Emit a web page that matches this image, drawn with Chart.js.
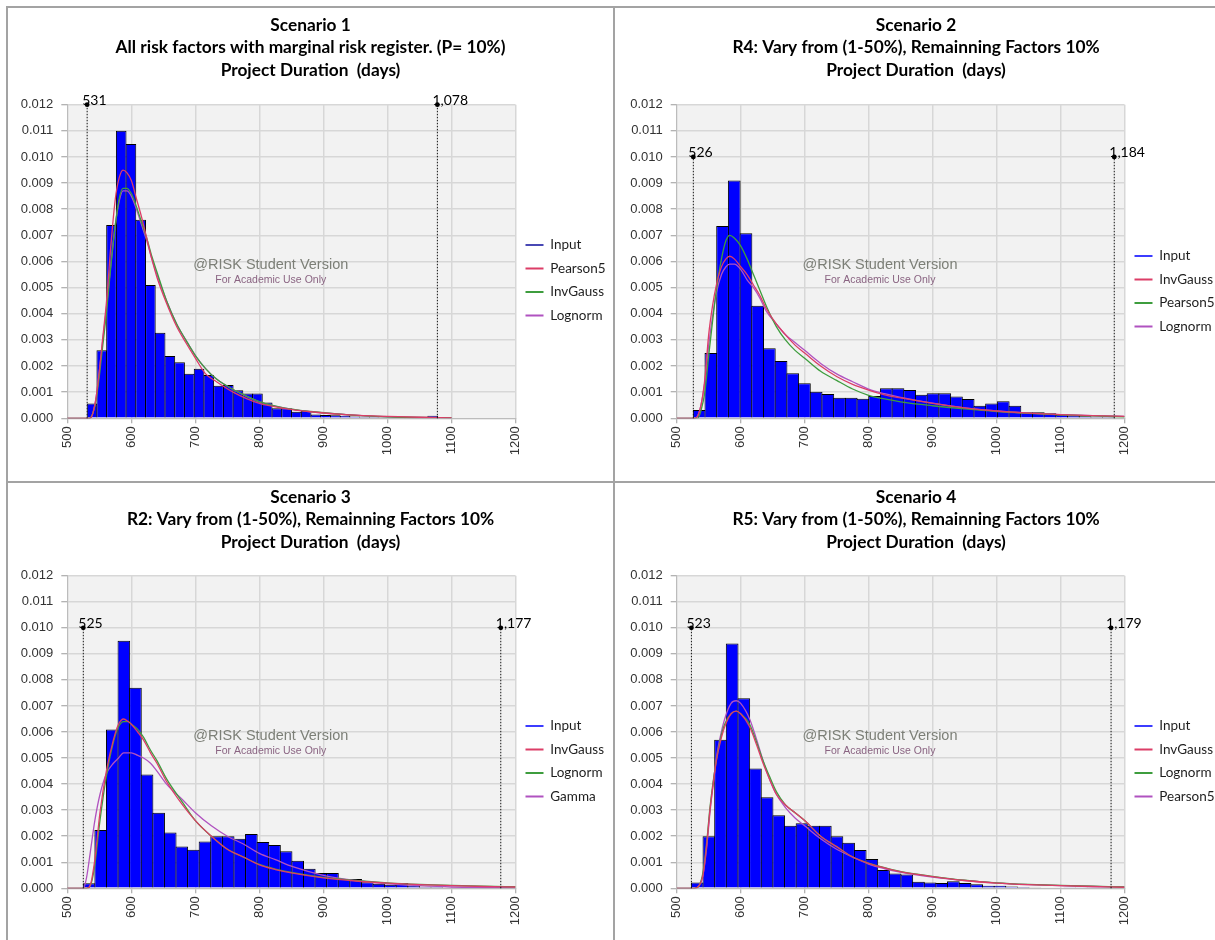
<!DOCTYPE html>
<html lang="en">
<head>
<meta charset="utf-8">
<title>Project Duration – fitted distributions</title>
<script src="https://cdn.jsdelivr.net/npm/chart.js@4.4.1/dist/chart.umd.min.js"></script>
<style>
  html, body { margin: 0; padding: 0; background: #fff; }
  body { position: relative; width: 1215px; height: 940px; overflow: hidden; }
  .frame { position: absolute; box-sizing: border-box; border: 2px solid #a3a3a3; }
  canvas { position: absolute; }
</style>
</head>
<body>
<div class="frame" style="left:6px;top:6px;width:609px;height:477px"></div>
<div class="frame" style="left:613px;top:6px;width:606px;height:477px"></div>
<div class="frame" style="left:6px;top:481px;width:609px;height:465px"></div>
<div class="frame" style="left:613px;top:481px;width:606px;height:465px"></div>
<canvas id="s1" width="605" height="472" style="left:8px;top:8px"></canvas>
<canvas id="s2" width="598" height="472" style="left:617px;top:8px"></canvas>
<canvas id="s3" width="605" height="456" style="left:8px;top:484px"></canvas>
<canvas id="s4" width="598" height="456" style="left:617px;top:484px"></canvas>
<script>
// ---- shared axes -------------------------------------------------------
const durationTicks = [500, 600, 700, 800, 900, 1000, 1100, 1200];
const densityTicks = [0, 0.001, 0.002, 0.003, 0.004, 0.005, 0.006, 0.007, 0.008, 0.009, 0.010, 0.011, 0.012];
const watermarkLines = ['@RISK Student Version', 'For Academic Use Only'];

// ---- Scenario 1 --------------------------------------------------------
const s1Title = ['Scenario 1', 'All risk factors with marginal risk register. (P= 10%)', 'Project Duration  (days)'];
const s1Series = ['Input', 'Pearson5', 'InvGauss', 'Lognorm'];
const s1BinStart = 531;
const s1BinWidth = 15.2;
const s1Density = [0.00057, 0.0026, 0.0074, 0.0110, 0.0105, 0.0076, 0.0051, 0.00327, 0.00238, 0.00214,
  0.0017, 0.0019, 0.00166, 0.00125, 0.00127, 0.00107, 0.00095, 0.00095, 0.0006, 0.00038,
  0.00038, 0.00025, 0.00028, 0.00015, 0.00013, 0.00012, 0.0001, 0.00007, 0.00006, 0.00005,
  0.00004, 0.00003, 0.00003, 0.00002, 0.00003, 0.0001];
const s1FitX = [500, 535, 540, 545, 550, 555, 561, 568, 575, 581, 587, 593, 600, 608, 616, 624, 632, 640,
  655, 671, 685, 700, 716, 733, 759, 780, 800, 838, 880, 940, 1000, 1050, 1100];
const s1Pearson5 = [0, 0, 0.0002, 0.0008, 0.0018, 0.003, 0.0044, 0.0066, 0.0084, 0.0092, 0.0095, 0.0094,
  0.0091, 0.0084, 0.0077, 0.0069, 0.0061, 0.0054, 0.0044, 0.0035, 0.0029, 0.0023, 0.0017, 0.0014,
  0.001, 0.00075, 0.00057, 0.00038, 0.00025, 0.00013, 0.00007, 0.00004, 0.00002];
const s1InvGauss = [0, 0, 0.0002, 0.0007, 0.0016, 0.0027, 0.004, 0.0058, 0.0074, 0.0084, 0.0088, 0.0088,
  0.0086, 0.0081, 0.0075, 0.0069, 0.0062, 0.0056, 0.0045, 0.0036, 0.003, 0.0024, 0.0019, 0.0015,
  0.0011, 0.00085, 0.00064, 0.0004, 0.00026, 0.00013, 0.00006, 0.00003, 0.00002];
const s1Lognorm = [0, 0, 0.0002, 0.0008, 0.0018, 0.0029, 0.0042, 0.0059, 0.0074, 0.0083, 0.0087, 0.0087,
  0.0085, 0.008, 0.0074, 0.0068, 0.0061, 0.0055, 0.0045, 0.0036, 0.003, 0.0024, 0.0019, 0.0015,
  0.0011, 0.00084, 0.00063, 0.0004, 0.00025, 0.00013, 0.00006, 0.00003, 0.00002];
const s1Markers = [531, 1078];
const s1MarkerTop = 0.012;

// ---- Scenario 2 --------------------------------------------------------
const s2Title = ['Scenario 2', 'R4: Vary from (1-50%), Remainning Factors 10%', 'Project Duration  (days)'];
const s2Series = ['Input', 'InvGauss', 'Pearson5', 'Lognorm'];
const s2BinStart = 526;
const s2BinWidth = 18.28;
const s2Density = [0.00032, 0.0025, 0.00736, 0.0091, 0.00708, 0.00431, 0.00268, 0.00219, 0.00172, 0.00134,
  0.00102, 0.00093, 0.00079, 0.00079, 0.00075, 0.00085, 0.00115, 0.00115, 0.00108, 0.0009,
  0.00096, 0.00096, 0.00083, 0.00074, 0.00048, 0.00057, 0.00065, 0.00048, 0.00023, 0.00023,
  0.00019, 0.00014, 0.0001, 0.00008, 0.00006, 0.00006];
const s2FitX = [500, 528, 533, 538, 544, 550, 556, 562, 570, 577, 583, 590, 600, 610, 620, 630, 640, 656,
  670, 685, 700, 725, 750, 775, 800, 825, 850, 900, 950, 1000, 1050, 1100, 1150, 1200];
const s2InvGauss = [0, 0, 0.0001, 0.0005, 0.0015, 0.0032, 0.0043, 0.0051, 0.0058, 0.0061, 0.0062, 0.0061,
  0.0058, 0.0055, 0.0051, 0.0047, 0.0042, 0.0036, 0.0032, 0.0028, 0.0025, 0.002, 0.0016, 0.0013,
  0.00108, 0.0009, 0.00078, 0.00057, 0.0004, 0.00028, 0.0002, 0.00014, 0.0001, 0.00007];
const s2Pearson5 = [0, 0, 0, 0.0003, 0.001, 0.0024, 0.0037, 0.0049, 0.0061, 0.0068, 0.007, 0.0069,
  0.0066, 0.0061, 0.0055, 0.0049, 0.0043, 0.0035, 0.003, 0.0026, 0.0023, 0.0018, 0.00145, 0.00112,
  0.00088, 0.00074, 0.00063, 0.00048, 0.00036, 0.00026, 0.00019, 0.00013, 0.00009, 0.00006];
const s2Lognorm = [0, 0, 0.0001, 0.0005, 0.0014, 0.0028, 0.0039, 0.0048, 0.0055, 0.0058, 0.0059, 0.0059,
  0.0057, 0.0053, 0.005, 0.0046, 0.0041, 0.0036, 0.0032, 0.0029, 0.0026, 0.0021, 0.0017, 0.0014,
  0.00112, 0.00094, 0.0008, 0.00058, 0.0004, 0.00028, 0.0002, 0.00014, 0.0001, 0.00007];
const s2Markers = [526, 1184];
const s2MarkerTop = 0.010;

// ---- Scenario 3 --------------------------------------------------------
const s3Title = ['Scenario 3', 'R2: Vary from (1-50%), Remainning Factors 10%', 'Project Duration  (days)'];
const s3Series = ['Input', 'InvGauss', 'Lognorm', 'Gamma'];
const s3BinStart = 525;
const s3BinWidth = 18.1;
const s3Density = [0.00019, 0.00224, 0.0061, 0.0095, 0.0077, 0.00437, 0.0029, 0.00214, 0.0016, 0.00148,
  0.0018, 0.002, 0.002, 0.0019, 0.00208, 0.00178, 0.00166, 0.00142, 0.00106, 0.00075,
  0.00059, 0.00059, 0.00036, 0.00036, 0.00023, 0.00017, 0.00014, 0.0002, 0.0001, 0.00006,
  0.00005, 0.00004, 0.00004, 0.00003, 0.00002, 0.00002];
const s3FitX = [500, 525, 530, 536, 543, 551, 561, 572, 580, 588, 595, 600, 610, 619, 630, 640, 655, 680,
  700, 725, 750, 775, 800, 825, 852, 900, 950, 1000, 1050, 1100, 1150, 1200];
const s3InvGauss = [0, 0, 0, 0.00013, 0.0011, 0.0029, 0.0045, 0.0057, 0.0063, 0.0065, 0.0064, 0.0063,
  0.006, 0.0057, 0.0052, 0.0048, 0.0041, 0.0032, 0.0026, 0.002, 0.0015, 0.0012, 0.0009, 0.00072,
  0.00058, 0.0004, 0.00028, 0.0002, 0.00014, 0.0001, 0.00007, 0.00005];
const s3Lognorm = [0, 0, 0, 0.0001, 0.0009, 0.0026, 0.0043, 0.0056, 0.0062, 0.0064, 0.0064, 0.0063,
  0.0061, 0.0058, 0.0053, 0.0049, 0.0042, 0.0033, 0.0026, 0.002, 0.0015, 0.0012, 0.00092, 0.00074,
  0.0006, 0.00042, 0.0003, 0.00021, 0.00015, 0.00011, 0.00008, 0.00006];
const s3Gamma = [0, 0, 0.0004, 0.0014, 0.0026, 0.0036, 0.0044, 0.0048, 0.005, 0.0052, 0.0052, 0.0052,
  0.0051, 0.005, 0.0048, 0.0045, 0.004, 0.0034, 0.0029, 0.0024, 0.002, 0.0017, 0.00134, 0.0011,
  0.00083, 0.0005, 0.0003, 0.00017, 0.0001, 0.00005, 0.00003, 0.00002];
const s3Markers = [525, 1177];
const s3MarkerTop = 0.010;

// ---- Scenario 4 --------------------------------------------------------
const s4Title = ['Scenario 4', 'R5: Vary from (1-50%), Remainning Factors 10%', 'Project Duration  (days)'];
const s4Series = ['Input', 'InvGauss', 'Lognorm', 'Pearson5'];
const s4BinStart = 523;
const s4BinWidth = 18.2;
const s4Density = [0.00022, 0.002, 0.0057, 0.0094, 0.0073, 0.0046, 0.0035, 0.0028, 0.0024, 0.0025,
  0.0024, 0.0024, 0.002, 0.00175, 0.00147, 0.00112, 0.0007, 0.00057, 0.00053, 0.00025,
  0.00022, 0.0002, 0.00027, 0.0002, 0.00016, 0.0001, 0.0001, 0.00007, 0.00005, 0.00004,
  0.00003, 0.00003, 0.00002, 0.00002, 0.00002, 0.00002];
const s4FitX = [500, 528, 535, 541, 547, 552, 557, 562, 568, 575, 585, 593, 600, 614, 625, 635, 645, 656,
  670, 685, 700, 725, 750, 775, 800, 825, 849, 900, 950, 1000, 1050, 1100, 1150, 1200];
const s4InvGauss = [0, 0, 0.0001, 0.0005, 0.0017, 0.003, 0.004, 0.0049, 0.0056, 0.0062, 0.0067, 0.0068,
  0.0067, 0.0062, 0.0055, 0.0048, 0.0042, 0.0036, 0.0032, 0.0029, 0.0026, 0.002, 0.0016, 0.0012,
  0.00096, 0.00078, 0.00064, 0.00045, 0.0003, 0.0002, 0.00014, 0.0001, 0.00007, 0.00004];
const s4Lognorm = [0, 0, 0.0001, 0.0006, 0.0018, 0.0031, 0.0041, 0.0049, 0.0057, 0.0063, 0.0067, 0.0068,
  0.0067, 0.0063, 0.0056, 0.0049, 0.0043, 0.0037, 0.0032, 0.0029, 0.0026, 0.002, 0.0016, 0.0012,
  0.00097, 0.00079, 0.00065, 0.00046, 0.00031, 0.00021, 0.00015, 0.00011, 0.00008, 0.00005];
const s4Pearson5 = [0, 0, 0.0001, 0.0005, 0.0016, 0.0029, 0.004, 0.005, 0.0058, 0.0065, 0.0071, 0.0072,
  0.0071, 0.0065, 0.0057, 0.0049, 0.0042, 0.0036, 0.0031, 0.0027, 0.0024, 0.0019, 0.0015, 0.0012,
  0.00093, 0.00075, 0.00062, 0.00043, 0.0003, 0.0002, 0.00014, 0.0001, 0.00007, 0.00005];
const s4Markers = [523, 1179];
const s4MarkerTop = 0.010;

// ---- styling -----------------------------------------------------------
const FIT_COLORS = ['#dc3d67', '#3e9d3e', '#b052c0'];
const GRID = '#d7d7d7';
const TICK_FONT = '"Liberation Sans", Arial, sans-serif';
const TEXT_FONT = 'Lato, "Open Sans", sans-serif';
const TITLE_LINE = 22.5;
const TITLE_SIZE = 17.3;

// plot-area fill
const plotBg = {
  id: 'plotBg',
  beforeDraw(chart) {
    const { ctx, chartArea: a } = chart;
    ctx.save();
    ctx.fillStyle = '#f2f2f2';
    ctx.fillRect(a.left, a.top, a.width, a.height);
    ctx.restore();
  }
};

// let the legend text run up to the canvas edge instead of being cut at the box
const legendRoom = {
  id: 'legendRoom',
  afterLayout(chart) {
    if (chart.legend) chart.legend.right = chart.width;
  }
};

// "@RISK Student Version" stamp in the plot area
const stamp = {
  id: 'stamp',
  beforeDatasetsDraw(chart) {
    const { ctx, chartArea: a } = chart;
    const cx = a.left + a.width * 0.454;
    const cy = a.top + a.height * 0.512;
    ctx.save();
    ctx.textAlign = 'center';
    ctx.textBaseline = 'middle';
    ctx.font = '14.5px ' + TICK_FONT;
    ctx.fillStyle = '#7c7f77';
    ctx.fillText(watermarkLines[0], cx, cy);
    ctx.font = '10.5px ' + TICK_FONT;
    ctx.fillStyle = '#8a6482';
    ctx.fillText(watermarkLines[1], cx, cy + 15);
    ctx.restore();
  }
};

// value label next to the head of each min / max marker line
const markerLabels = {
  id: 'markerLabels',
  afterDatasetsDraw(chart) {
    const { ctx } = chart;
    chart.data.datasets.forEach((ds, i) => {
      if (!ds.isMarker) return;
      const head = chart.getDatasetMeta(i).data[1];
      ctx.save();
      ctx.font = '14px ' + TEXT_FONT;
      ctx.fillStyle = '#000';
      ctx.textAlign = 'left';
      ctx.textBaseline = 'middle';
      ctx.fillText(ds.markerText, head.x - 5, head.y - 4);
      ctx.restore();
    });
  }
};

function points(xs, ys) {
  return xs.map((x, i) => ({ x, y: ys[i] }));
}

function drawPanel(id, p) {
  const canvas = document.getElementById(id);
  const datasets = [{
    type: 'bar',
    label: p.series[0],
    data: p.density.map((v, i) => ({ x: p.binStart + (i + 0.5) * p.binWidth, y: v })),
    backgroundColor: '#0000ff',
    borderColor: '#000',
    borderWidth: 1,
    barPercentage: 1.09,
    categoryPercentage: 1,
    order: 3,
    legendColor: p.inputColor
  }];
  p.fits.forEach((ys, k) => datasets.push({
    type: 'line',
    label: p.series[k + 1],
    data: points(p.fitX, ys),
    borderColor: FIT_COLORS[k],
    backgroundColor: FIT_COLORS[k],
    borderWidth: 1.3,
    pointRadius: 0,
    cubicInterpolationMode: 'monotone',
    fill: false,
    order: 2,
    legendColor: FIT_COLORS[k]
  }));
  p.markers.forEach(m => datasets.push({
    type: 'line',
    label: String(m),
    data: [{ x: m, y: 0 }, { x: m, y: p.markerTop }],
    borderColor: '#111',
    borderWidth: 1,
    borderDash: [1.5, 1.5],
    pointRadius: [0, 2.4],
    pointBackgroundColor: '#000',
    pointBorderWidth: 0,
    clip: false,
    order: 1,
    isMarker: true,
    markerText: m.toLocaleString('en-US')
  }));

  const b = p.box;
  // the legend takes all the room right of the plot, so the title stays centred on the panel
  const legendWidth = canvas.width - b.right;
  new Chart(canvas, {
    type: 'bar',
    data: { datasets },
    options: {
      responsive: false,
      devicePixelRatio: 1,
      animation: false,
      events: [],
      layout: { padding: 0 },
      scales: {
        x: {
          type: 'linear', min: 500, max: 1200, offset: false,
          afterBuildTicks: s => { s.ticks = durationTicks.map(v => ({ value: v })); },
          afterFit: s => { s.height = canvas.height - b.bottom; },
          grid: { offset: false, color: GRID, lineWidth: 1.5, tickLength: 5, tickColor: '#9a9a9a', tickWidth: 1 },
          border: { color: '#bcbcbc', width: 1 },
          ticks: {
            autoSkip: false, minRotation: 90, maxRotation: 90, padding: 3,
            color: '#333', font: { family: TICK_FONT, size: 13 },
            callback: v => String(v)
          }
        },
        y: {
          type: 'linear', min: 0, max: 0.012,
          afterBuildTicks: s => { s.ticks = densityTicks.map(v => ({ value: v })); },
          afterFit: s => { s.width = b.left; },
          grid: { color: GRID, lineWidth: 1.5, tickLength: 6, tickColor: '#9a9a9a', tickWidth: 1 },
          border: { color: '#bcbcbc', width: 1 },
          ticks: {
            padding: 8, color: '#333', font: { family: TICK_FONT, size: 13 },
            callback: v => Number(v).toFixed(3)
          }
        }
      },
      plugins: {
        tooltip: { enabled: false },
        title: {
          display: true,
          text: p.title,
          color: '#000',
          font: { family: TEXT_FONT, size: TITLE_SIZE, weight: 'bold', lineHeight: TITLE_LINE / TITLE_SIZE },
          padding: { top: b.titleTop, bottom: b.top - b.titleTop - 3 * TITLE_LINE }
        },
        legend: {
          position: 'right',
          align: 'start',
          fullSize: false,
          maxWidth: legendWidth,
          title: { display: true, text: ' ', font: { size: 1, lineHeight: 1 }, padding: { top: b.legendGap, bottom: 0 } },
          labels: {
            usePointStyle: true,
            pointStyle: 'line',
            pointStyleWidth: 18,
            padding: 10,
            color: '#1e1e1e',
            font: { family: TEXT_FONT, size: 13.5 },
            filter: item => item.datasetIndex < 4,
            sort: (a, c) => a.datasetIndex - c.datasetIndex,
            generateLabels(chart) {
              const items = Chart.defaults.plugins.legend.labels.generateLabels(chart);
              items.forEach(it => {
                const ds = chart.data.datasets[it.datasetIndex];
                it.strokeStyle = ds.legendColor || '#000';
                it.lineWidth = 2;
                it.lineDash = [];
              });
              return items;
            }
          }
        }
      }
    },
    plugins: [plotBg, legendRoom, stamp, markerLabels]
  });
}

drawPanel('s1', {
  title: s1Title, series: s1Series, binStart: s1BinStart, binWidth: s1BinWidth, density: s1Density,
  fitX: s1FitX, fits: [s1Pearson5, s1InvGauss, s1Lognorm],
  markers: s1Markers, markerTop: s1MarkerTop, inputColor: '#4848b4',
  box: { left: 59.3, right: 507.5, top: 96.7, bottom: 410.3, titleTop: 5.75, legendGap: 122.5 }
});
drawPanel('s2', {
  title: s2Title, series: s2Series, binStart: s2BinStart, binWidth: s2BinWidth, density: s2Density,
  fitX: s2FitX, fits: [s2InvGauss, s2Pearson5, s2Lognorm],
  markers: s2Markers, markerTop: s2MarkerTop, inputColor: '#3c3cff',
  box: { left: 59.7, right: 507.5, top: 96.7, bottom: 410.3, titleTop: 5.75, legendGap: 133.5 }
});
drawPanel('s3', {
  title: s3Title, series: s3Series, binStart: s3BinStart, binWidth: s3BinWidth, density: s3Density,
  fitX: s3FitX, fits: [s3InvGauss, s3Lognorm, s3Gamma],
  markers: s3Markers, markerTop: s3MarkerTop, inputColor: '#3c3cff',
  box: { left: 59.3, right: 507.5, top: 91.7, bottom: 404.3, titleTop: 1.75, legendGap: 132.5 }
});
drawPanel('s4', {
  title: s4Title, series: s4Series, binStart: s4BinStart, binWidth: s4BinWidth, density: s4Density,
  fitX: s4FitX, fits: [s4InvGauss, s4Lognorm, s4Pearson5],
  markers: s4Markers, markerTop: s4MarkerTop, inputColor: '#3c3cff',
  box: { left: 59.7, right: 507.5, top: 91.7, bottom: 404.3, titleTop: 1.75, legendGap: 132.5 }
});
</script>
</body>
</html>
